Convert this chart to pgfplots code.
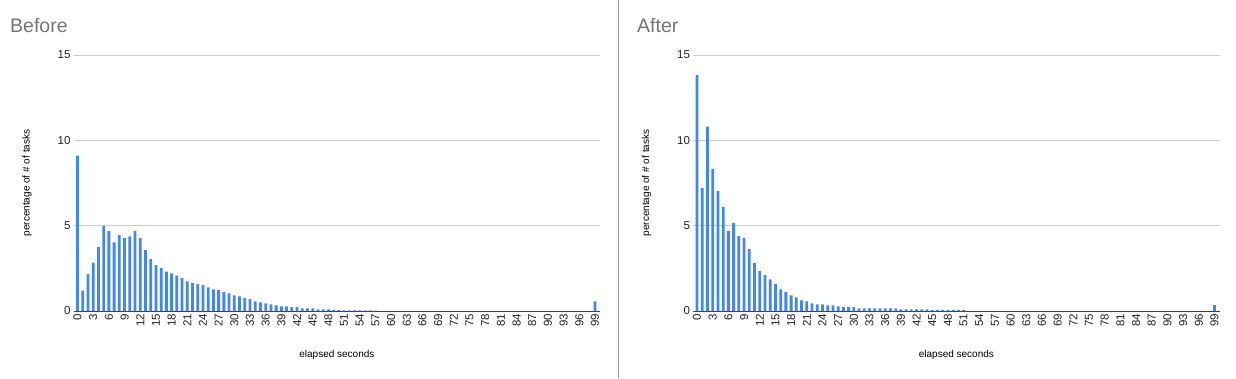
\documentclass[border=0pt]{standalone}
\usepackage{fontspec}
\setmainfont{Liberation Sans}
\usepackage{pgfplots}
\usepackage{pgfplotstable}
\pgfplotsset{compat=1.18}
\definecolor{barblue}{HTML}{4285F4}
\definecolor{gridgray}{HTML}{CCCCCC}
\definecolor{titlegray}{HTML}{757575}
\definecolor{textdark}{HTML}{222222}

\pgfplotstableread{
x y
0 9.1
1 1.2
2 2.16
3 2.84
4 3.75
5 4.98
6 4.69
7 4.02
8 4.45
9 4.27
10 4.37
11 4.69
12 4.27
13 3.57
14 3.04
15 2.69
16 2.51
17 2.31
18 2.2
19 2.08
20 1.92
21 1.73
22 1.63
23 1.57
24 1.51
25 1.39
26 1.27
27 1.22
28 1.10
29 1.04
30 0.92
31 0.86
32 0.75
33 0.69
34 0.57
35 0.51
36 0.45
37 0.39
38 0.33
39 0.27
40 0.27
41 0.22
42 0.22
43 0.16
44 0.16
45 0.16
46 0.1
47 0.1
48 0.1
49 0.05
50 0.05
51 0.04
52 0.04
53 0.04
54 0.03
55 0.03
56 0.03
57 0.02
99 0.57
}\before

\pgfplotstableread{
x y
0 13.82
1 7.22
2 10.8
3 8.33
4 7.04
5 6.1
6 4.69
7 5.16
8 4.39
9 4.27
10 3.63
11 2.8
12 2.33
13 2.1
14 1.86
15 1.57
16 1.27
17 1.1
18 0.92
19 0.8
20 0.63
21 0.57
22 0.45
23 0.39
24 0.39
25 0.33
26 0.33
27 0.27
28 0.22
29 0.22
30 0.22
31 0.16
32 0.16
33 0.16
34 0.16
35 0.16
36 0.16
37 0.16
38 0.16
39 0.1
40 0.1
41 0.1
42 0.1
43 0.1
44 0.1
45 0.06
46 0.06
47 0.06
48 0.06
49 0.06
50 0.06
51 0.06
99 0.35
}\after

\pgfplotsset{
  histo/.style={
    scale only axis,
    width=526.6pt, height=256pt,
    xmin=-0.75, xmax=100, ymin=0, ymax=15,
    ytick={0,5,10,15},
    xtick={0,3,...,99},
    major tick length=0pt,
    axis x line*=bottom,
    axis y line*=left,
    x axis line style={draw=black!75, line width=0.8pt, -},
    y axis line style={draw=none},
    ymajorgrids,
    grid style={gridgray, line width=0.7pt},
    tick label style={font=\fontsize{11.5}{13}\selectfont, text=textdark},
    /pgf/number format/assume math mode=true,
    xticklabel style={rotate=90, anchor=east, inner sep=2.5pt},
    yticklabel style={inner sep=3pt},
    xlabel={elapsed seconds},
    ylabel={percentage of \# of tasks},
    label style={font=\fontsize{12}{14}\selectfont, text=textdark},
    every axis x label/.style={at={(axis description cs:0.5,-0.172)}, anchor=center},
    every axis y label/.style={at={(axis description cs:-0.0885,0.5)}, rotate=90, anchor=center},
    clip=false,
  }
}

\begin{document}
\begin{tikzpicture}
\useasboundingbox (0pt,0pt) rectangle (1236pt,378pt);
\draw[black!40, line width=0.8pt] (618pt,0pt) -- (618pt,378pt);
\node[anchor=base west, text=titlegray, font=\fontsize{19.5}{22}\selectfont, inner sep=0pt] at (10pt,345pt) {Before};
\node[anchor=base west, text=titlegray, font=\fontsize{19.5}{22}\selectfont, inner sep=0pt] at (637pt,345pt) {After};

\begin{axis}[histo, at={(73.6pt,67pt)}, anchor=south west]
\addplot[ybar, bar width=2.8pt, bar shift=0pt, fill=barblue, draw=none] table[x=x,y=y] {\before};
\end{axis}

\begin{axis}[histo, at={(693.1pt,67pt)}, anchor=south west]
\addplot[ybar, bar width=2.8pt, bar shift=0pt, fill=barblue, draw=none] table[x=x,y=y] {\after};
\end{axis}
\end{tikzpicture}
\end{document}
